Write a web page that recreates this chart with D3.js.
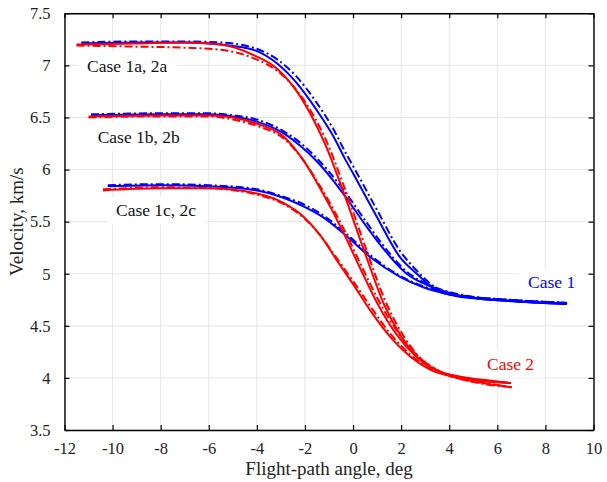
<!DOCTYPE html>
<html>
<head>
<meta charset="utf-8">
<script src="https://cdn.jsdelivr.net/npm/d3@7"></script>
<style>
  body { margin: 0; background: #fff; }
  svg text { font-family: "Liberation Serif", "Times New Roman", serif; }
</style>
</head>
<body>
<div id="chart"></div>
<script>
// Dados

let xTicks = [-12, -10, -8, -6, -4, -2, 0, 2, 4, 6, 8, 10];
let xTickLabels = ["-12", "-10", "-8", "-6", "-4", "-2", "0", "2", "4", "6", "8", "10"];
let yTicks = [3.5, 4, 4.5, 5, 5.5, 6, 6.5, 7, 7.5];
let yTickLabels = ["3.5", "4", "4.5", "5", "5.5", "6", "6.5", "7", "7.5"];

// Case 1 (azul)
let blueA_x  = [-11.3, -9, -7, -5.5, -4.15, -3.17, -2.34, -1.51, -0.82, -0.33, 0.01, 0.98, 1.95, 2.65, 3.48, 4.45, 5.28, 6.39, 8.9];
let blueA_v  = [7.21, 7.22, 7.22, 7.20, 7.15, 7.02, 6.83, 6.57, 6.32, 6.10, 5.96, 5.55, 5.16, 5.00, 4.84, 4.78, 4.76, 4.74, 4.71];
let blueAd_x = [-11.3, -9, -7, -5.5, -4.15, -3.17, -2.34, -1.51, -0.82, -0.33, 0.01, 0.98, 1.95, 2.65, 3.48, 4.45, 5.28, 6.39, 8.9];
let blueAd_v = [7.22, 7.23, 7.23, 7.22, 7.17, 7.06, 6.89, 6.64, 6.39, 6.17, 6.03, 5.62, 5.22, 5.03, 4.86, 4.79, 4.77, 4.75, 4.72];

let blueB_x  = [-10.9, -8, -6, -5, -4, -2.9, -2.21, -1.51, -0.41, 0.57, 1.26, 2.23, 3.2, 4.45, 5.28, 6.39, 8.9];
let blueB_v  = [6.52, 6.53, 6.53, 6.51, 6.46, 6.35, 6.23, 6.08, 5.77, 5.45, 5.24, 5.00, 4.88, 4.79, 4.76, 4.74, 4.71];
let blueBd_x = [-10.9, -8, -6, -5, -4, -2.9, -2.21, -1.51, -0.41, 0.57, 1.26, 2.23, 3.2, 4.45, 5.28, 6.39, 8.9];
let blueBd_v = [6.53, 6.54, 6.54, 6.52, 6.48, 6.37, 6.26, 6.11, 5.81, 5.49, 5.27, 5.02, 4.89, 4.80, 4.77, 4.75, 4.72];

let blueC_x  = [-10.2, -8, -6, -4, -2.9, -2.0, -1.3, -0.26, 0.71, 1.95, 2.92, 4.03, 5.28, 6.5, 8.9];
let blueC_v  = [5.84, 5.85, 5.84, 5.80, 5.73, 5.64, 5.55, 5.36, 5.16, 4.97, 4.87, 4.80, 4.76, 4.74, 4.71];
let blueCd_x = [-10.2, -8, -6, -4, -2.9, -2.0, -1.3, -0.26, 0.71, 1.95, 2.92, 4.03, 5.28, 6.5, 8.9];
let blueCd_v = [5.85, 5.86, 5.85, 5.81, 5.74, 5.66, 5.57, 5.38, 5.18, 4.98, 4.88, 4.81, 4.77, 4.75, 4.72];

// Case 2 (vermelho)
let redA_x  = [-11.5, -9, -7, -5.5, -4.15, -3.17, -2.34, -1.65, -1.10, -0.41, 0.57, 1.3, 2.0, 2.8, 3.6, 4.5, 5.5, 6.57];
let redA_v  = [7.20, 7.21, 7.22, 7.20, 7.10, 6.97, 6.75, 6.48, 6.21, 5.79, 5.15, 4.70, 4.40, 4.17, 4.06, 4.01, 3.98, 3.95];
let redAd_x = [-11.5, -9, -7, -5.5, -4.15, -3.17, -2.34, -1.65, -1.10, -0.41, 0.57, 1.3, 2.0, 2.8, 3.6, 4.5, 5.5, 6.6];
let redAd_v = [7.19, 7.18, 7.17, 7.15, 7.07, 6.95, 6.76, 6.52, 6.27, 5.86, 5.22, 4.76, 4.44, 4.19, 4.06, 3.99, 3.95, 3.91];

let redB_x  = [-11, -8, -6, -5, -4, -2.9, -2.07, -1.37, -0.41, 0.3, 1.0, 1.8, 2.6, 3.4, 4.2, 5.2, 6.57];
let redB_v  = [6.51, 6.52, 6.52, 6.50, 6.44, 6.32, 6.09, 5.82, 5.40, 5.05, 4.72, 4.42, 4.21, 4.08, 4.02, 3.98, 3.95];
let redBd_x = [-11, -8, -6, -5, -4, -2.9, -2.07, -1.37, -0.41, 0.3, 1.0, 1.8, 2.6, 3.4, 4.2, 5.2, 6.6];
let redBd_v = [6.50, 6.51, 6.51, 6.48, 6.42, 6.30, 6.09, 5.84, 5.44, 5.10, 4.77, 4.46, 4.23, 4.09, 4.01, 3.96, 3.91];

let redC_x  = [-10.4, -8, -6, -4, -2.9, -2.07, -1.37, -0.68, 0, 0.8, 1.6, 2.4, 3.2, 4, 5, 6.57];
let redC_v  = [5.80, 5.82, 5.82, 5.77, 5.68, 5.55, 5.37, 5.13, 4.90, 4.62, 4.38, 4.20, 4.08, 4.02, 3.98, 3.95];
let redCd_x = [-10.4, -8, -6, -4, -2.9, -2.07, -1.37, -0.68, 0, 0.8, 1.6, 2.4, 3.2, 4, 5, 6.6];
let redCd_v = [5.81, 5.83, 5.82, 5.76, 5.67, 5.54, 5.37, 5.15, 4.93, 4.66, 4.41, 4.22, 4.09, 4.02, 3.96, 3.91];

let series = [
    {x: blueC_x, v: blueC_v, color: '#0000ff', dash: null},
    {x: blueCd_x, v: blueCd_v, color: '#0000ff', dash: '8,3,2,3'},
    {x: blueB_x, v: blueB_v, color: '#0000ff', dash: null},
    {x: blueBd_x, v: blueBd_v, color: '#0000ff', dash: '8,3,2,3'},
    {x: blueA_x, v: blueA_v, color: '#0000ff', dash: null},
    {x: blueAd_x, v: blueAd_v, color: '#0000ff', dash: '8,3,2,3'},
    {x: redC_x, v: redC_v, color: '#ff0000', dash: null},
    {x: redCd_x, v: redCd_v, color: '#ff0000', dash: '8,3,2,3'},
    {x: redB_x, v: redB_v, color: '#ff0000', dash: null},
    {x: redBd_x, v: redBd_v, color: '#ff0000', dash: '8,3,2,3'},
    {x: redA_x, v: redA_v, color: '#ff0000', dash: null},
    {x: redAd_x, v: redAd_v, color: '#ff0000', dash: '8,3,2,3'}
];

let labels = [
    {text: 'Case 1a, 2a', x: -11.06, v: 6.94, color: '#111'},
    {text: 'Case 1b, 2b', x: -10.62, v: 6.255, color: '#111'},
    {text: 'Case 1c, 2c', x: -9.86, v: 5.55, color: '#111'},
    {text: 'Case 1', x: 7.28, v: 4.865, color: '#0000ff'},
    {text: 'Case 2', x: 5.57, v: 4.08, color: '#ff0000'}
];

// Canvas

let width = 607;
let height = 482;
let margin = {left: 64.5, right: 13.5, top: 13.3, bottom: 52};

let svg = d3.select('#chart')
    .append('svg')
    .attr('width', width)
    .attr('height', height);

let x = d3.scaleLinear().domain([-12, 10]).range([margin.left, width - margin.right]);
let y = d3.scaleLinear().domain([3.5, 7.5]).range([height - margin.bottom, margin.top]);

// Grade

svg.append('g')
    .selectAll('line')
    .data(xTicks)
    .enter()
    .append('line')
    .attr('x1', d => x(d)).attr('x2', d => x(d))
    .attr('y1', y(3.5)).attr('y2', y(7.5))
    .attr('stroke', '#e6e6e6')
    .attr('stroke-width', 1);

svg.append('g')
    .selectAll('line')
    .data(yTicks)
    .enter()
    .append('line')
    .attr('y1', d => y(d)).attr('y2', d => y(d))
    .attr('x1', x(-12)).attr('x2', x(10))
    .attr('stroke', '#e6e6e6')
    .attr('stroke-width', 1);

// Curvas

let line = d3.line()
    .x(d => x(d[0]))
    .y(d => y(d[1]))
    .curve(d3.curveMonotoneX);

svg.append('g')
    .selectAll('path')
    .data(series)
    .enter()
    .append('path')
    .attr('d', s => line(s.x.map((d, i) => [d, s.v[i]])))
    .attr('fill', 'none')
    .attr('stroke', s => s.color)
    .attr('stroke-width', 2)
    .attr('stroke-dasharray', s => s.dash);

// Rótulos com fundo branco

let labelG = svg.append('g');

labels.forEach(l => {
    let t = labelG.append('text')
        .attr('x', x(l.x))
        .attr('y', y(l.v))
        .style('font-size', '17.5px')
        .attr('fill', l.color)
        .text(l.text);
    let b = t.node().getBBox();
    labelG.insert('rect', 'text')
        .attr('x', b.x - 9).attr('y', b.y - 4)
        .attr('width', b.width + 18).attr('height', b.height + 8)
        .attr('fill', '#fff');
});

// Eixos

let axisB = svg.append('g')
    .attr('transform', `translate(0,${y(3.5)})`)
    .call(d3.axisBottom(x).tickValues(xTicks).tickSizeInner(-5).tickSizeOuter(0).tickPadding(12)
        .tickFormat((d, i) => xTickLabels[i]));
let axisT = svg.append('g')
    .attr('transform', `translate(0,${y(7.5)})`)
    .call(d3.axisTop(x).tickValues(xTicks).tickSizeInner(-5).tickSizeOuter(0).tickFormat(''));
let axisL = svg.append('g')
    .attr('transform', `translate(${x(-12)},0)`)
    .call(d3.axisLeft(y).tickValues(yTicks).tickSizeInner(-5).tickSizeOuter(0).tickPadding(14)
        .tickFormat((d, i) => yTickLabels[i]));
let axisR = svg.append('g')
    .attr('transform', `translate(${x(10)},0)`)
    .call(d3.axisRight(y).tickValues(yTicks).tickSizeInner(-5).tickSizeOuter(0).tickFormat(''));

[axisB, axisT, axisL, axisR].forEach(a => {
    a.attr('font-family', null).attr('font-size', null);
    a.select('.domain').attr('stroke', '#000').attr('stroke-width', 1.4);
    a.selectAll('.tick line').attr('stroke', '#000').attr('stroke-width', 1.2);
    a.selectAll('text')
        .style('font-family', '"Liberation Serif", "Times New Roman", serif')
        .style('font-size', '16.5px')
        .attr('fill', '#222');
});

// Títulos dos eixos

svg.append('text')
    .attr('x', x(-1))
    .attr('y', 475)
    .attr('text-anchor', 'middle')
    .style('font-size', '19px')
    .attr('fill', '#222')
    .text('Flight-path angle, deg');

svg.append('text')
    .attr('transform', `translate(23,${y(5.5)}) rotate(-90)`)
    .attr('text-anchor', 'middle')
    .style('font-size', '19px')
    .attr('fill', '#222')
    .text('Velocity, km/s');
</script>
</body>
</html>
